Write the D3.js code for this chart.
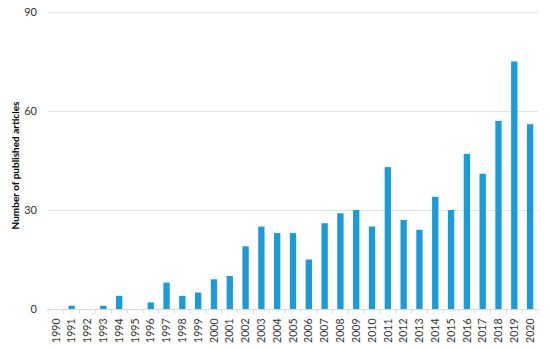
<!DOCTYPE html>
<html>
<head>
<meta charset="utf-8">
<script src="https://cdn.jsdelivr.net/npm/d3@7"></script>
<style>
  body { margin: 0; background: #fff; }
  svg { font-family: Lato, "Open Sans", sans-serif; }
</style>
</head>
<body>
<div id="chart"></div>
<script>
const years = ["1990","1991","1992","1993","1994","1995","1996","1997","1998","1999",
  "2000","2001","2002","2003","2004","2005","2006","2007","2008","2009",
  "2010","2011","2012","2013","2014","2015","2016","2017","2018","2019","2020"];
const articles = [0, 1, 0, 1, 4, 0, 2, 8, 4, 5,
  9, 10, 19, 25, 23, 23, 15, 26, 29, 30,
  25, 43, 27, 24, 34, 30, 47, 41, 57, 75, 56];
const yTicks = [0, 30, 60, 90];

const width = 550, height = 348;
const margin = { top: 12, right: 12, bottom: 39, left: 48 };

const svg = d3.select("#chart").append("svg")
    .attr("width", width)
    .attr("height", height);

const x = d3.scaleBand()
    .domain(years)
    .range([margin.left, width - margin.right])
    .paddingInner(0.6)
    .paddingOuter(0.3);

const y = d3.scaleLinear()
    .domain([0, 90])
    .range([height - margin.bottom, margin.top]);

// gridlines
svg.append("g")
    .selectAll("line")
    .data(yTicks.filter(d => d > 0))
    .join("line")
    .attr("x1", margin.left)
    .attr("x2", width - margin.right)
    .attr("y1", d => Math.round(y(d)) + 0.5)
    .attr("y2", d => Math.round(y(d)) + 0.5)
    .attr("stroke", "#e2e2e2")
    .attr("stroke-width", 1);

// y axis labels
svg.append("g")
    .selectAll("text")
    .data(yTicks)
    .join("text")
    .attr("x", margin.left - 11)
    .attr("y", d => y(d))
    .attr("dy", "0.35em")
    .attr("text-anchor", "end")
    .attr("fill", "#333")
    .style("font-size", "11px")
    .text(d => d);

// bars
svg.append("g")
    .selectAll("rect")
    .data(articles)
    .join("rect")
    .attr("x", (d, i) => x(years[i]))
    .attr("y", d => y(d))
    .attr("width", x.bandwidth())
    .attr("height", d => y(0) - y(d))
    .attr("fill", "#1b9bd7");

// x axis
const step = x.step();
const xAxis = svg.append("g")
    .attr("transform", `translate(0,${Math.round(y(0)) + 0.5})`);

xAxis.append("line")
    .attr("x1", margin.left)
    .attr("x2", width - margin.right)
    .attr("stroke", "#d9d9d9");

xAxis.selectAll(".tick-mark")
    .data(d3.range(years.length + 1))
    .join("line")
    .attr("class", "tick-mark")
    .attr("x1", i => x(years[0]) - (step - x.bandwidth()) / 2 + i * step)
    .attr("x2", i => x(years[0]) - (step - x.bandwidth()) / 2 + i * step)
    .attr("y1", 0)
    .attr("y2", 4)
    .attr("stroke", "#d9d9d9");

xAxis.selectAll("text")
    .data(years)
    .join("text")
    .attr("transform", d => `translate(${x(d) + x.bandwidth() / 2},9) rotate(-90)`)
    .attr("text-anchor", "end")
    .attr("dy", "0.35em")
    .attr("fill", "#333")
    .style("font-size", "10.5px")
    .text(d => d);

// y title
svg.append("text")
    .attr("transform", `translate(15,${(margin.top + height - margin.bottom) / 2 + 5}) rotate(-90)`)
    .attr("text-anchor", "middle")
    .attr("dy", "0.35em")
    .attr("fill", "#000")
    .style("font-size", "10px")
    .style("font-weight", "bold")
    .text("Number of published articles");
</script>
</body>
</html>
